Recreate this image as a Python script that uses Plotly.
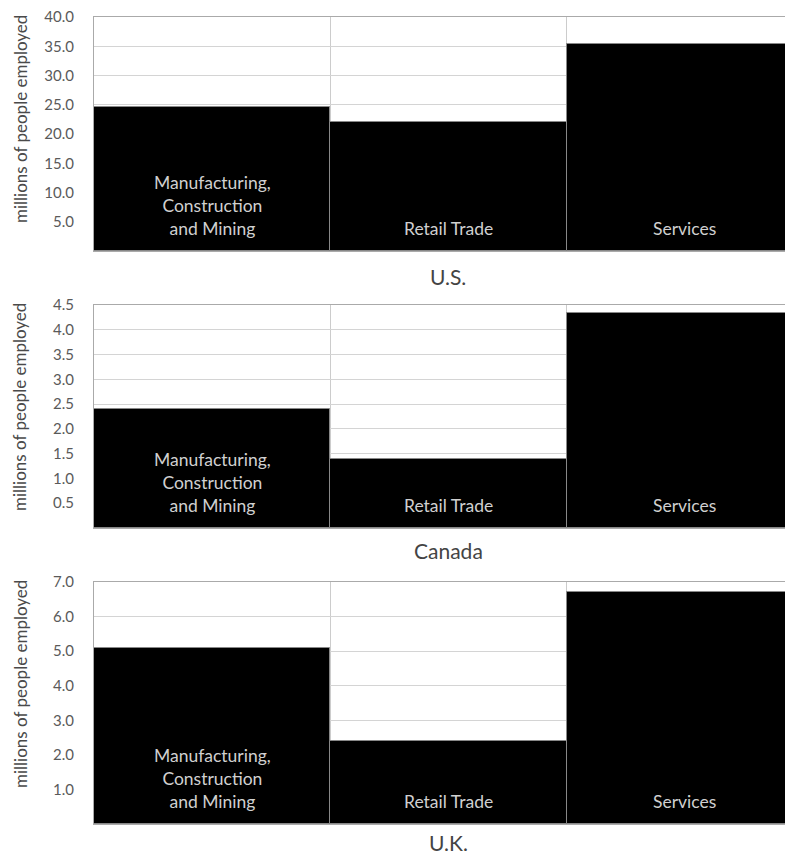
import plotly.graph_objects as go

categories = ["Manufacturing,<br>Construction<br>and Mining", "Retail Trade", "Services"]
countries = ["U.S.", "Canada", "U.K."]
us_values = [24.6, 22.0, 35.4]
canada_values = [2.40, 1.39, 4.34]
uk_values = [5.08, 2.40, 6.72]
y_max = [40.0, 4.5, 7.0]
y_step = [5.0, 0.5, 1.0]

all_values = [us_values, canada_values, uk_values]

# page body has an 8px margin, so the figure is sized to fit the window
OFF = 8
W, H = 793 - OFF, 856 - OFF
panels_px = [(17 - OFF, 251 - OFF), (305 - OFF, 528 - OFF), (582 - OFF, 824 - OFF)]
label_gap_px = [25, 22, 18]
x_left_px = 94 - OFF
FONT = "Lato"

fig = go.Figure()
x_pos = [0, 1, 2]
bar_px = 236.3
x_span = (W - x_left_px) / bar_px

for i, vals in enumerate(all_values):
    n = i + 1
    xa = "x" if n == 1 else f"x{n}"
    ya = "y" if n == 1 else f"y{n}"
    fig.add_trace(go.Bar(
        x=x_pos, y=vals, width=1,
        marker=dict(color="#000000", line=dict(color="#888888", width=1)),
        xaxis=xa, yaxis=ya, showlegend=False, hoverinfo="y",
    ))
    top, bot = panels_px[i]
    dom = [1 - bot / H, 1 - top / H]
    ticks = []
    k = 1
    while k * y_step[i] <= y_max[i] + 1e-9:
        ticks.append(round(k * y_step[i], 2))
        k += 1
    yk = "yaxis" if n == 1 else f"yaxis{n}"
    xk = "xaxis" if n == 1 else f"xaxis{n}"
    fig.layout[yk] = dict(
        domain=dom, range=[0, y_max[i]], anchor=xa, automargin=False,
        tickvals=ticks, tickformat=".1f", ticklabeloverflow="allow",
        showgrid=True, gridcolor="#d4d4d4", gridwidth=1,
        zeroline=False, showline=True, linecolor="#aaaaaa", mirror=True,
        ticks="", ticklabelstandoff=16,
        tickfont=dict(family=FONT, size=15, color="#5a5a5a"),
    )
    fig.layout[xk] = dict(
        domain=[x_left_px / W, 1], range=[-0.5, -0.5 + x_span], anchor=ya,
        automargin=False,
        tickvals=[0.5, 1.5], showticklabels=False,
        showgrid=True, gridcolor="#cccccc", gridwidth=1,
        zeroline=False, showline=True, linecolor="#aaaaaa", mirror=True, ticks="",
    )
    for j, c in enumerate(categories):
        fig.add_annotation(
            x=x_pos[j], y=0, xref=xa, yref=ya, text=c, showarrow=False,
            yanchor="bottom", yshift=10,
            font=dict(family=FONT, size=17.5, color="#d0d0d0"),
        )
    # y-axis title
    fig.add_annotation(
        x=12 / W, y=1 - (top - 4) / H, xref="paper", yref="paper",
        text="millions of people employed", textangle=-90, showarrow=False,
        xanchor="center", yanchor="top",
        font=dict(family=FONT, size=17, color="#4a4a4a"),
    )
    # country label
    fig.add_annotation(
        x=(x_left_px + 1.5 * bar_px) / W, y=1 - (bot + label_gap_px[i]) / H,
        xref="paper", yref="paper", text=countries[i], showarrow=False,
        xanchor="center", yanchor="middle",
        font=dict(family=FONT, size=21, color="#444444"),
    )

fig.update_layout(
    width=W, height=H, margin=dict(l=0, r=0, t=0, b=0, autoexpand=False),
    paper_bgcolor="white", plot_bgcolor="white", bargap=0,
)
fig.write_html("out.html")
